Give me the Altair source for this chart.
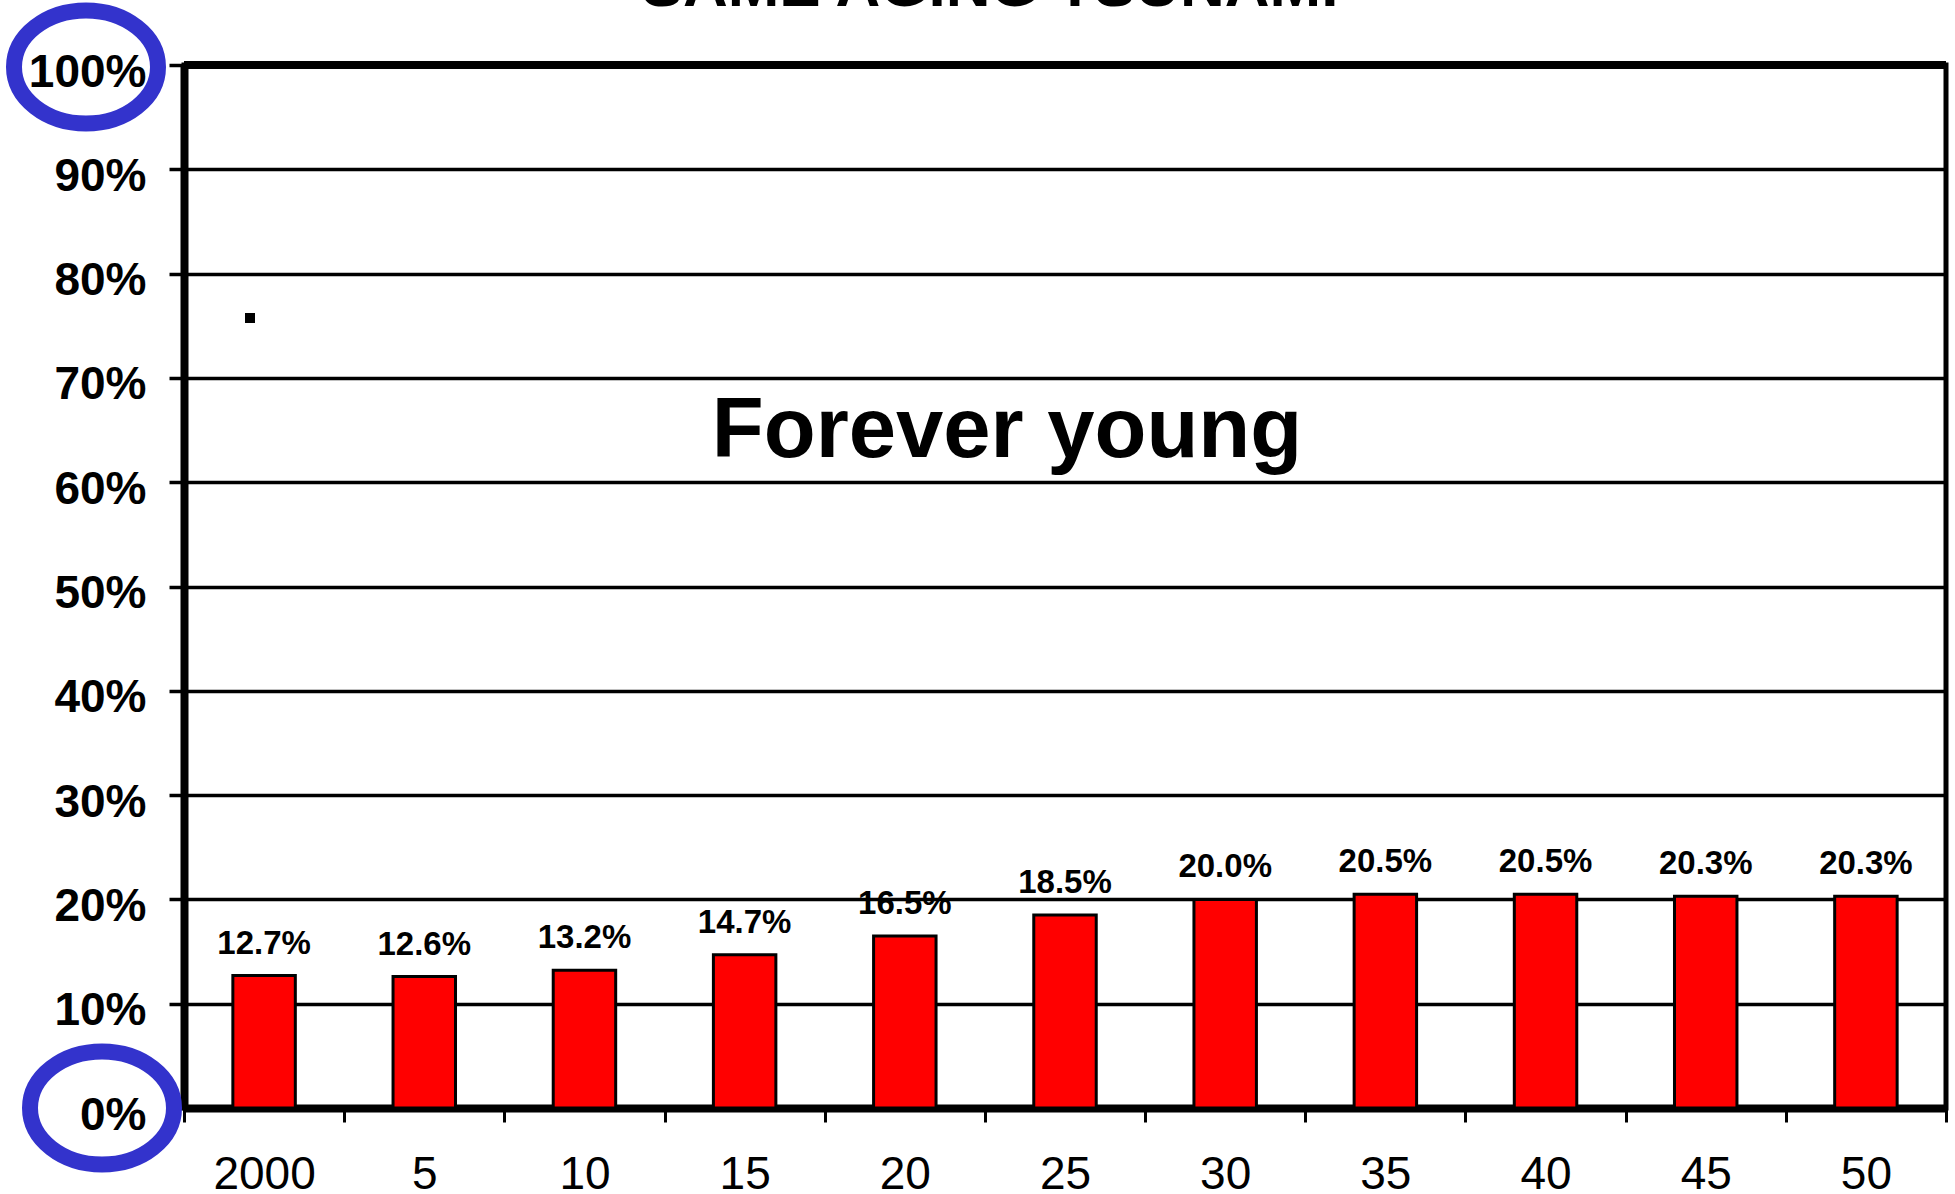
import altair as alt
import pandas as pd

# Projection years (2000, then 2005 ... 2050 written as offsets) and share of population
years = ["2000", "5", "10", "15", "20", "25", "30", "35", "40", "45", "50"]
shares_pct = [12.7, 12.6, 13.2, 14.7, 16.5, 18.5, 20.0, 20.5, 20.5, 20.3, 20.3]
bar_labels = ["12.7%", "12.6%", "13.2%", "14.7%", "16.5%", "18.5%",
              "20.0%", "20.5%", "20.5%", "20.3%", "20.3%"]
y_ticks = [0.0, 0.1, 0.2, 0.3, 0.4, 0.5, 0.6, 0.7, 0.8, 0.9, 1.0]

headline = "SAME AGING TSUNAMI"
caption = "Forever young"

FONT = "Liberation Sans"
W, H = 1762, 1043

df = pd.DataFrame({
    "year": years,
    "share": [v / 100 for v in shares_pct],
    "label": bar_labels,
})

x_enc = alt.X(
    "year:N",
    sort=years,
    scale=alt.Scale(paddingInner=0, paddingOuter=0),
    axis=alt.Axis(
        title=None, labelAngle=0, tickBand="extent", grid=False,
        labelFont=FONT, labelFontSize=46, labelFontWeight="normal",
        labelColor="black", labelPadding=30,
        tickSize=14, tickWidth=3, tickColor="black",
        domainColor="black", domainWidth=8,
    ),
)
y_enc = alt.Y(
    "share:Q",
    scale=alt.Scale(domain=[0, 1], nice=False),
    axis=alt.Axis(
        title=None, format=".0%", values=y_ticks, labelOverlap=False,
        labelFont=FONT, labelFontSize=46, labelFontWeight="bold",
        labelColor="black", labelBaseline="alphabetic", labelOffset=21,
        labelPadding=23, tickSize=15, tickWidth=3.5, tickColor="black",
        domainColor="black", domainWidth=8,
        grid=True, gridColor="black", gridWidth=3.5,
    ),
)

base = alt.Chart(df).encode(x=x_enc)

bars = base.mark_bar(
    width=alt.RelativeBandSize(0.39),
    color="#FF0000", stroke="black", strokeWidth=3,
).encode(y=y_enc)

values = base.mark_text(
    font=FONT, fontSize=33, fontWeight="bold", color="black",
    baseline="alphabetic", dy=-22,
).encode(y="share:Q", text="label:N")

one = pd.DataFrame({"k": [0]})

# heavy top border of the plot frame
top_rule = alt.Chart(one).mark_rule(color="black", strokeWidth=8).encode(
    x=alt.value(0), x2=alt.value(W), y=alt.value(0)
)

# headline running off the top edge
head = alt.Chart(one).mark_text(
    text=headline, font=FONT, fontSize=62, fontWeight="bold",
    color="black", baseline="alphabetic", align="center",
).encode(x=alt.value(806), y=alt.value(-59))

note = alt.Chart(one).mark_text(
    text=caption, font=FONT, fontSize=85, fontWeight="bold",
    color="black", baseline="alphabetic", align="center",
).encode(x=alt.value(823), y=alt.value(392))

dot = alt.Chart(one).mark_square(size=100, color="black", opacity=1).encode(
    x=alt.value(66), y=alt.value(253)
)

# blue rings highlighting the 100% and 0% ends of the scale
ellipse = "M-1,0A1,0.785,0,1,1,1,0A1,0.785,0,1,1,-1,0Z"
ring_top = alt.Chart(one).mark_point(
    shape=ellipse, size=20736, filled=False, stroke="#3333CC",
    strokeWidth=16, opacity=1,
).encode(x=alt.value(-98), y=alt.value(2))
ring_bottom = alt.Chart(one).mark_point(
    shape=ellipse, size=20736, filled=False, stroke="#3333CC",
    strokeWidth=16, opacity=1,
).encode(x=alt.value(-82), y=alt.value(1043))

chart = alt.layer(
    bars, values, top_rule, head, note, dot, ring_top, ring_bottom
).properties(
    width=W, height=H,
    autosize=alt.AutoSizeParams(type="none"),
    padding={"left": 184, "top": 65, "right": 9, "bottom": 86},
    background="white",
).configure_view(
    stroke="black", strokeWidth=5
)

chart.save("out.html", embed_options={"renderer": "svg", "actions": False})
